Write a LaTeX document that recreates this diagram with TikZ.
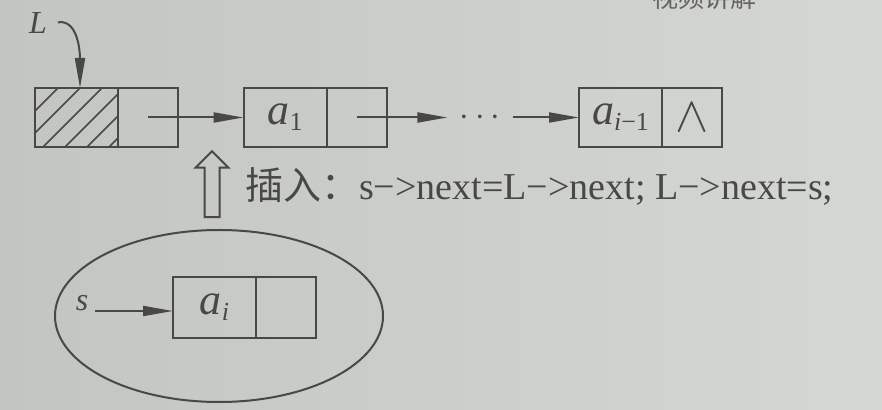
\documentclass[tikz,border=0pt]{standalone}
\usepackage{fontspec}
\setmainfont{Liberation Serif}
\newfontfamily\cjk{Noto Sans CJK SC}
\usetikzlibrary{positioning,shapes.geometric,shapes.arrows,arrows.meta}
\definecolor{ink}{RGB}{72,72,72}
\definecolor{paperL}{RGB}{194,197,192}
\definecolor{paperR}{RGB}{213,215,211}
\newcommand\lowsub[1]{\raisebox{-3pt}{\fontsize{13}{13}\selectfont#1}}
\tikzset{
  cell/.style={draw=ink, line width=1pt, outer sep=0pt, inner sep=0pt,
    minimum width=41.5pt, minimum height=29.5pt, text=ink,
    font=\fontsize{22}{22}\selectfont},
  ptrcell/.style={cell, minimum width=30pt},
  lbl/.style={text=ink, font=\fontsize{16}{16}\selectfont},
  link/.style={draw=ink, line width=1pt, -{Triangle[length=15pt,width=5pt]}},
}
\begin{document}
\begin{tikzpicture}[x=0.5pt,y=-0.5pt]
  % Paper
  \shade[left color=paperL, right color=paperR] (0,0) rectangle (882,410);
  \useasboundingbox (0,0) rectangle (882,410);
  \node[text=ink!85, font=\cjk\fontsize{13}{13}\selectfont] (video) at (704,-2) {视频讲解};
  % Head node
  \node[cell] (h) at (76.5,117.5) {};
  \node[ptrcell, right=0pt of h] (hp) {};
  \begin{scope}
    \clip (h.south west) rectangle (h.north east);
    \foreach \x in {-3,...,3}
      \draw[ink, line width=0.8pt] (43+\x*22,147) -- ++(59,-59);
  \end{scope}
  \node[lbl] (L) at (38,23) {\textit{L}};
  \draw[link, shorten <=2pt] (L.east) .. controls +(24,-4) and +(0,-36) .. ([xshift=1.75pt]h.north);
  % List
  \node[cell] (a1) at (285,117.5) {\textit{a}\lowsub{1}};
  \node[ptrcell, right=0pt of a1] (a1p) {};
  \node[text=ink, inner sep=6pt, font=\fontsize{16}{16}\selectfont] (dots) at (480,117.5) {$\cdots$};
  \node[cell] (an) at (620.5,117.5) {\textit{a}\lowsub{\textit{i}−1}};
  \node[ptrcell, right=0pt of an] (anp) {\fontsize{28}{28}\selectfont$\wedge$};
  \draw[link] (hp.center) -- (a1);
  \draw[link] (a1p.center) -- (dots);
  \draw[link] (dots) -- (an);
  % Insert
  \node[draw=ink, line width=1pt, single arrow, shape border rotate=90,
    inner sep=3.25pt, single arrow head extend=4.5pt, minimum height=33pt] (up) at (212,188) {};
  \node[anchor=base west, text=ink, font=\fontsize{19}{19}\selectfont] (code) at (238,200)
    {{\cjk 插入：}s−>next=L−>next; L−>next=s;};
  % New node
  \node[draw=ink, line width=1pt, ellipse, minimum width=164pt, minimum height=86pt] (pool) at (219,316) {};
  \node[cell, minimum height=30.5pt] (ai) at (214.5,307.5) {\textit{a}\lowsub{\textit{i}}};
  \node[ptrcell, minimum height=30.5pt, right=0pt of ai] (aip) {};
  \node[lbl, anchor=base] (s) at (82,311) {\textit{s}};
  \draw[link] (s.base east) -- (s.base east -| ai.west);
\end{tikzpicture}
\end{document}
